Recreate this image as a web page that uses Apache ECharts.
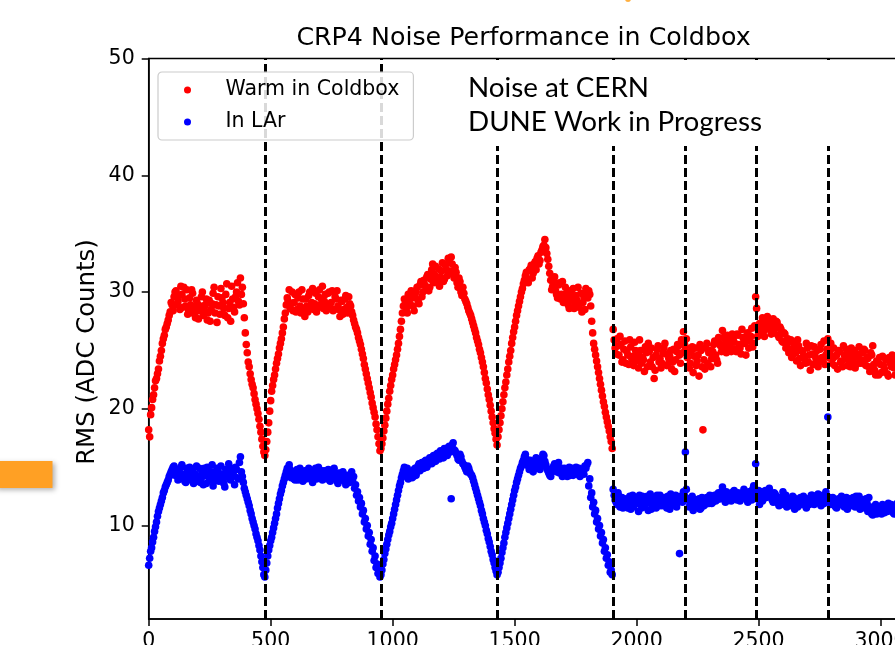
<!DOCTYPE html>
<html>
<head>
<meta charset="utf-8">
<script src="https://cdn.jsdelivr.net/npm/echarts@6/dist/echarts.min.js"></script>
<style>html,body{margin:0;padding:0;background:#fff;}#c{width:895px;height:645px;}</style>
</head>
<body>
<div id="c"></div>
<script>
// ---- data (main arrays at channel start+8i, "b" arrays at start+4+8i) ----
const STEP = 8;
const segStarts = [0, 480, 952, 1432, 1904];
const boundaries = [476, 952, 1428, 1904, 2200, 2492, 2784];
const xTicks = [0, 500, 1000, 1500, 2000, 2500, 3000];
const yTicks = [10, 20, 30, 40, 50];

const warm1 = [18.2,19.5,20.8,21.8,22.6,23.4,24.5,25.6,26.3,27.0,27.6,28.3,28.9,29.6,30.1,29.2,28.5,29.8,30.4,28.8,
28.1,29.5,30.2,28.6,27.8,29.0,28.4,29.6,28.0,28.9,27.6,29.3,28.5,29.9,28.2,27.4,28.8,30.3,29.1,28.0,
30.7,28.6,27.5,29.4,28.3,30.0,29.2,31.2,30.4,27.8,25.5,24.0,23.0,22.1,21.3,20.4,19.6,18.5,17.4,16.3];
const warm2 = [16.5,18.0,19.8,21.5,22.5,23.4,24.3,25.2,26.0,27.0,28.2,29.5,30.2,29.0,28.4,29.8,28.5,30.0,28.2,29.4,
27.9,28.8,29.7,28.6,30.3,29.0,28.3,29.6,28.9,30.5,29.2,28.4,29.9,28.7,30.1,28.5,29.4,28.8,27.9,29.2,
28.5,29.7,28.2,29.0,28.3,27.6,27.0,26.5,25.8,25.1,24.3,23.4,22.6,21.8,21.0,20.1,19.3,18.2,17.0];
const warm3 = [16.6,17.5,18.6,19.8,20.9,22.0,22.9,23.8,24.6,25.6,26.8,28.2,29.4,28.6,29.8,28.9,29.5,28.4,30.0,29.3,
30.6,29.6,31.0,30.2,31.5,30.4,31.9,30.8,32.2,31.2,30.5,31.8,30.9,32.3,31.4,32.6,33.0,31.6,32.1,30.8,
31.2,30.0,30.4,29.4,29.0,28.4,28.0,27.4,26.8,26.1,25.5,24.8,24.0,23.1,22.2,21.2,20.3,19.3,18.3,17.4];
const warm4 = [17.6,18.8,20.0,21.2,22.3,23.4,24.5,25.6,26.6,27.5,28.4,29.2,30.0,30.7,31.4,31.0,31.9,32.3,31.6,32.6,
32.9,32.4,33.4,33.9,34.5,33.3,32.2,31.0,30.5,31.3,29.8,30.6,29.4,30.9,29.2,29.9,28.9,30.1,29.3,28.6,
29.7,30.4,29.0,28.3,29.6,30.3,29.5,29.8,27.5,25.6,24.6,23.6,22.6,21.6,20.6,19.7,18.9,18.1,17.2];
const warm5 = [26.8,25.2,26.0,24.6,25.5,24.2,25.8,24.9,23.8,25.3,24.5,25.7,24.1,23.5,25.0,24.4,23.2,24.8,25.6,24.0,
23.6,22.6,24.6,25.4,24.3,23.9,25.2,24.7,23.8,24.5,23.4,25.1,24.2,25.5,24.6,25.9,26.6,25.3,24.4,23.5,
24.9,23.1,25.2,24.1,22.8,25.0,18.2,23.4,25.6,24.8,23.6,24.9,25.8,24.2,26.1,25.4,26.7,25.5,24.8,26.0,
25.3,26.4,25.7,24.9,26.3,25.2,26.8,25.9,24.6,26.5,25.8,26.9,25.6,29.6,26.2,27.3,26.5,27.6,26.8,27.9,
27.1,26.4,27.7,26.9,27.4,26.1,26.8,25.7,26.4,25.5,24.8,25.9,24.6,25.2,24.1,25.4,23.7,24.9,24.3,25.6,
24.0,23.3,24.7,25.3,24.2,23.6,25.1,24.4,25.8,24.6,26.0,24.8,23.9,25.2,24.5,23.4,24.9,24.1,25.4,24.3,
23.7,24.8,25.2,24.0,23.5,24.7,25.3,24.2,23.9,25.0,24.4,23.6,24.8,25.4,23.3,24.1,22.9,23.8,24.5,23.4,
24.2,22.8,23.9,24.6,23.5,24.1];
const warm1b = [17.6,20.1,21.2,22.4,23.0,24.1,25.0,26.0,26.8,27.3,28.0,29.1,28.4,30.0,28.9,29.7,30.5,28.7,29.4,30.2,
28.4,28.9,29.9,28.1,29.3,27.7,28.8,30.0,28.5,29.4,28.2,27.5,29.0,30.4,28.9,29.6,28.1,29.5,28.6,29.8,
27.8,29.1,30.5,28.7,29.6,30.8,28.9,29.8,29.0,26.5,24.8,23.6,22.5,21.8,20.8,20.0,19.1,18.0,16.8,16.0];
const warm2b = [17.2,18.8,20.7,22.0,22.9,23.9,24.7,25.6,26.5,27.7,28.9,29.2,28.6,30.0,29.1,28.3,29.5,28.8,30.2,28.6,
29.4,28.3,30.0,29.1,28.5,29.9,28.7,30.2,29.4,28.6,29.8,28.9,30.0,29.1,28.4,29.6,30.1,28.5,29.3,28.1,
29.4,28.7,29.6,28.8,28.0,27.3,26.8,26.1,25.5,24.7,23.8,23.0,22.2,21.4,20.5,19.7,18.7,17.6,16.4];
const warm3b = [17.0,18.1,19.2,20.4,21.5,22.5,23.4,24.2,25.1,26.2,27.5,28.8,29.0,28.2,29.3,30.1,28.8,29.6,30.4,29.0,
30.9,30.0,30.6,31.3,30.1,31.1,32.4,31.5,30.9,32.0,31.3,32.5,31.1,31.9,32.9,31.8,32.4,31.2,31.7,30.4,
30.9,29.7,29.9,29.2,28.7,28.2,27.7,27.1,26.5,25.8,25.1,24.4,23.6,22.6,21.7,20.8,19.8,18.8,17.9,16.9];
const warm4b = [18.2,19.4,20.6,21.8,22.9,24.0,25.0,26.1,27.0,28.0,28.8,29.6,30.3,31.0,31.7,30.8,32.0,31.2,32.4,31.9,
33.1,32.7,33.6,34.0,33.8,32.8,31.6,30.2,31.0,30.1,29.5,30.8,29.8,29.1,30.4,29.5,28.6,29.8,30.3,28.9,
29.3,28.7,29.9,29.1,28.5,29.9,30.1,28.8,26.5,25.1,24.1,23.1,22.1,21.1,20.2,19.3,18.5,17.6,16.6];
const warm5b = [25.9,24.7,25.4,26.2,24.0,25.1,23.9,24.6,25.9,24.3,23.7,25.0,24.6,25.9,23.9,24.2,25.3,23.6,24.9,25.2,
24.4,23.3,25.1,24.0,23.5,24.8,25.6,23.7,24.3,25.0,24.0,23.2,24.9,25.4,23.9,24.8,25.6,26.0,24.8,23.9,
25.3,24.5,23.7,24.6,25.5,23.6,24.2,25.2,23.9,25.0,24.3,25.5,24.6,23.9,25.6,24.9,26.1,25.0,26.3,25.6,
24.9,26.0,25.1,26.4,25.5,24.7,26.1,25.6,26.3,25.2,26.2,25.3,27.1,28.6,26.6,27.0,27.8,26.2,27.3,27.5,
26.8,27.2,26.5,27.5,26.3,27.0,25.8,26.5,25.2,26.0,25.1,24.4,25.6,24.8,25.9,24.3,25.0,24.5,23.9,25.2,
24.6,25.4,23.8,24.5,25.0,24.0,25.5,24.2,23.8,25.1,24.4,25.6,24.3,23.7,24.6,25.0,24.0,23.6,24.6,25.1,
24.2,23.6,24.5,25.0,23.8,24.4,23.9,24.8,25.1,23.7,24.3,23.2,24.6,23.8,22.9,24.0,24.4,23.1,23.7,24.3,
23.0,24.4,23.6,24.0,22.9,23.8];

const lar1 = [6.6,7.8,8.6,9.5,10.3,11.2,11.8,12.4,13.0,13.5,13.9,14.4,14.8,15.1,14.6,13.9,14.5,15.2,14.1,13.7,
14.6,15.0,14.2,13.6,14.4,13.8,14.9,14.1,13.5,14.3,15.0,13.9,14.6,13.4,14.2,14.9,13.8,15.1,14.0,13.3,
14.4,15.3,13.9,14.6,13.5,14.8,14.0,15.9,14.2,13.2,12.6,12.0,11.3,10.6,10.0,9.3,8.7,7.9,6.9,5.8];
const lar2 = [6.2,7.4,8.3,9.0,9.8,10.6,11.5,12.3,13.0,13.7,14.3,14.9,15.2,14.1,14.6,13.9,14.8,14.2,14.5,13.8,
14.7,14.1,14.9,14.3,13.7,14.6,14.0,15.0,14.4,13.9,14.7,14.2,14.8,13.8,14.4,14.9,14.1,13.6,14.3,13.9,
14.2,13.5,14.0,13.7,14.6,14.2,13.5,12.9,12.4,11.9,11.3,10.6,10.0,9.4,8.8,8.1,7.4,6.7,6.0];
const lar3 = [5.8,6.7,7.6,8.4,9.2,9.9,10.6,11.4,12.2,13.0,13.7,14.4,15.0,14.6,14.0,14.5,14.1,14.8,14.3,15.1,
14.7,15.4,14.9,15.6,15.2,15.8,15.3,16.0,15.5,16.2,15.7,16.3,15.8,16.5,16.0,16.8,12.3,17.1,16.4,16.0,
15.6,15.9,15.3,15.0,14.6,14.9,14.4,14.1,13.5,12.9,12.3,11.7,11.0,10.3,9.6,8.9,8.2,7.5,6.8,6.1];
const lar4 = [6.0,6.8,7.7,8.5,9.4,10.2,11.0,11.8,12.6,13.3,14.0,14.6,15.1,15.6,16.1,15.4,14.8,15.3,14.6,15.5,
14.9,15.7,15.2,16.1,15.5,14.9,14.5,14.2,14.8,15.3,14.6,15.4,14.7,14.2,14.9,14.4,14.8,14.3,14.9,14.5,
15.0,14.6,14.2,14.8,14.4,14.9,15.4,14.0,12.8,12.0,11.3,10.6,10.0,9.4,8.8,8.1,7.5,6.9,6.2];
const lar5 = [13.1,12.2,11.8,12.5,12.0,11.5,12.3,11.7,12.1,11.4,12.6,11.9,12.3,11.2,12.0,12.5,11.6,12.2,11.3,12.7,
11.8,12.4,11.5,12.1,12.6,11.7,12.3,11.9,12.5,11.4,12.2,11.8,12.6,12.0,7.6,12.4,12.9,16.3,12.2,11.6,
12.1,11.3,12.0,11.7,12.3,11.5,12.1,11.8,12.4,11.9,12.5,12.0,12.6,12.2,12.8,12.3,13.3,12.5,12.9,12.2,
12.7,12.4,13.0,12.3,12.8,12.1,12.6,13.1,12.4,12.0,12.7,12.2,13.4,15.3,12.5,11.8,12.9,12.3,13.0,12.6,
13.2,12.4,12.0,12.7,12.1,11.7,12.4,12.9,12.0,11.6,12.3,11.8,12.5,11.4,12.1,11.7,12.4,11.9,12.2,11.5,
12.3,12.0,12.6,11.8,12.2,12.7,12.0,12.5,11.9,12.9,19.3,12.4,11.9,12.3,11.6,12.2,11.8,12.5,11.7,12.1,
11.4,12.3,11.9,12.4,11.6,12.0,12.5,11.8,12.2,11.5,12.0,12.4,11.3,10.9,11.4,11.0,11.6,11.2,11.8,11.1,
11.5,11.9,11.3,11.7,11.0,11.6];
const lar1b = [7.2,8.1,9.0,9.9,10.8,11.5,12.1,12.8,13.3,13.7,14.2,14.6,15.0,14.3,14.8,14.0,15.0,14.4,13.8,14.9,
14.3,13.9,14.8,14.0,15.1,14.2,13.7,14.6,14.9,13.6,14.4,14.1,15.2,13.8,14.5,14.7,14.0,14.4,13.6,14.8,
14.2,14.0,14.9,14.3,15.0,14.1,15.4,14.6,13.7,12.9,12.3,11.7,11.0,10.3,9.7,9.0,8.3,7.4,6.4,5.6];
const lar2b = [6.8,7.9,8.7,9.4,10.2,11.0,11.9,12.7,13.4,14.0,14.6,14.3,14.8,14.4,14.0,14.5,13.9,14.9,14.3,14.6,
14.0,14.4,14.8,13.9,14.3,14.9,14.4,14.1,14.7,14.2,14.5,14.0,14.6,14.1,14.8,14.3,13.8,14.5,14.1,14.6,
13.8,14.3,14.0,14.4,13.9,13.2,12.6,12.1,11.6,11.0,10.3,9.7,9.1,8.4,7.8,7.0,6.4,5.9,5.6];
const lar3b = [6.2,7.1,8.0,8.8,9.5,10.2,11.0,11.8,12.6,13.4,14.1,14.7,14.3,14.9,14.4,14.6,14.2,14.9,14.6,15.3,
14.9,15.1,15.5,15.0,15.6,15.4,15.9,15.6,16.1,15.8,16.4,16.0,16.6,16.2,16.7,16.3,16.9,16.5,16.2,15.7,
16.1,15.5,15.2,14.8,15.1,14.6,14.3,13.8,13.2,12.6,12.0,11.3,10.6,10.0,9.3,8.6,7.8,7.1,6.4,5.8];
const lar4b = [6.4,7.2,8.1,9.0,9.8,10.6,11.4,12.2,13.0,13.7,14.3,14.9,15.4,15.9,15.7,15.1,15.6,14.9,15.2,15.8,
15.3,14.8,15.6,16.0,15.2,14.7,14.3,14.6,15.1,14.9,15.0,14.5,14.9,14.4,14.7,14.2,15.0,14.6,14.3,14.8,
14.4,14.9,14.5,14.7,15.1,15.2,13.4,12.4,11.6,11.0,10.3,9.7,9.1,8.5,7.8,7.2,6.6,6.0,5.8];
const lar5b = [12.6,12.0,12.8,11.6,12.4,11.9,12.2,11.5,12.5,12.0,11.6,12.4,11.9,12.6,11.5,12.2,11.8,12.5,12.0,11.4,
12.3,11.9,12.6,11.7,12.2,11.9,12.4,11.5,12.1,12.7,11.8,12.3,11.6,12.2,12.5,12.0,12.6,13.1,12.3,11.8,
12.5,11.6,12.2,11.9,11.4,12.4,11.7,12.2,12.0,12.6,11.9,12.4,12.1,12.7,12.3,12.9,12.5,12.0,12.8,12.4,
12.1,12.9,12.5,12.2,12.7,12.3,12.8,12.6,12.2,12.9,12.5,13.1,12.8,12.3,13.0,12.7,12.1,12.8,12.4,12.9,
12.6,12.2,12.8,12.5,11.9,12.4,12.2,11.8,12.6,12.3,12.0,11.7,12.4,12.1,11.6,12.3,11.9,12.5,11.7,12.2,
11.8,12.6,12.1,11.9,12.4,12.3,11.7,12.6,12.1,12.5,12.2,11.8,12.4,12.0,11.5,12.3,11.9,12.2,11.6,12.4,
12.0,11.7,12.2,11.8,12.5,11.9,11.4,12.1,11.7,12.3,11.2,11.6,11.0,11.5,11.8,11.2,11.6,11.0,11.4,11.7,
11.2,11.5,11.8,11.1,11.4,11.9];

function toPoints(segs, offset) {
  const out = [];
  segs.forEach((vals, s) => vals.forEach((v, i) => out.push([segStarts[s] + offset + i * STEP, v])));
  return out;
}
const warmPts = toPoints([warm1, warm2, warm3, warm4, warm5], 0).concat(toPoints([warm1b, warm2b, warm3b, warm4b, warm5b], 4));
const larPts = toPoints([lar1, lar2, lar3, lar4, lar5], 0).concat(toPoints([lar1b, lar2b, lar3b, lar4b, lar5b], 4));

const FONT = 'DejaVu Sans';
const chart = echarts.init(document.getElementById('c'), null, {renderer: 'canvas'});
chart.setOption({
  animation: false,
  backgroundColor: '#ffffff',
  grid: {left: 148.7, top: 58.5, width: 749.4, height: 560.5, show: true, borderColor: '#000', borderWidth: 1.5,
    backgroundColor: 'transparent', containLabel: false, outerBoundsMode: 'none'},
  xAxis: {
    type: 'value', min: 0, max: 3072,
    axisLine: {show: true, lineStyle: {color: '#000', width: 1.5}},
    axisTick: {show: true, length: 7, lineStyle: {color: '#000', width: 1.5}, customValues: xTicks},
    axisLabel: {color: '#000', fontFamily: FONT, fontSize: 20.5, margin: 12, customValues: xTicks, formatter: v => String(v)},
    splitLine: {show: false}
  },
  yAxis: {
    type: 'value', min: 2, max: 50,
    axisLine: {show: true, lineStyle: {color: '#000', width: 1.5}},
    axisTick: {show: true, length: 7, lineStyle: {color: '#000', width: 1.5}, customValues: yTicks},
    axisLabel: {color: '#000', fontFamily: FONT, fontSize: 20.5, margin: 14, customValues: yTicks, formatter: v => String(v)},
    splitLine: {show: false}
  },
  legend: {
    data: [{name: 'Warm in Coldbox', icon: 'circle'}, {name: 'In LAr', icon: 'circle'}],
    orient: 'vertical', left: 158, top: 72,
    itemWidth: 60, itemHeight: 7, itemGap: 8,
    padding: [6, 14, 6, 26],
    backgroundColor: 'rgba(255,255,255,0.85)', borderColor: '#cccccc', borderWidth: 1.2, borderRadius: 4,
    textStyle: {fontFamily: FONT, fontSize: 20.5, color: '#000', lineHeight: 24, padding: [0, 0, 0, 3]},
    z: 20
  },
  series: [
    {name: 'Warm in Coldbox', type: 'scatter', data: warmPts, symbolSize: 7.6, itemStyle: {color: '#ff0000', opacity: 1}, z: 2},
    {name: 'In LAr', type: 'scatter', data: larPts, symbolSize: 7.6, itemStyle: {color: '#0000ff', opacity: 1}, z: 2},
    {name: 'boundaries', type: 'line', data: [], z: 5,
      markLine: {silent: true, symbol: ['none', 'none'], label: {show: false},
        lineStyle: {color: '#000', width: 3, type: [9, 4]},
        data: boundaries.map(b => ({xAxis: b}))}}
  ],
  graphic: [
    {type: 'rect', z: 10, shape: {x: 440, y: 61, width: 460, height: 85}, style: {fill: '#ffffff'}},
    {type: 'text', z: 11, style: {text: 'Noise at CERN', x: 468, y: 88, fill: '#000', font: '27.8px Lato', textAlign: 'left', verticalAlign: 'middle', textVerticalAlign: 'middle'}},
    {type: 'text', z: 11, style: {text: 'DUNE Work in Progress', x: 468, y: 122, fill: '#000', font: '27.8px Lato', textAlign: 'left', verticalAlign: 'middle', textVerticalAlign: 'middle'}},
    {type: 'text', z: 11, style: {text: 'CRP4 Noise Performance in Coldbox', x: 523.5, y: 38, fill: '#000', font: '25.3px "DejaVu Sans"', textAlign: 'center', verticalAlign: 'middle', textVerticalAlign: 'middle'}},
    {type: 'text', z: 11, x: 88, y: 352, rotation: Math.PI / 2, style: {text: 'RMS (ADC Counts)', x: 0, y: 0, fill: '#000', font: '24.4px "DejaVu Sans"', textAlign: 'center', verticalAlign: 'middle', textVerticalAlign: 'middle'}},
    {type: 'rect', z: 11, shape: {x: -5, y: 461, width: 57.5, height: 27}, style: {fill: '#ffa024', shadowBlur: 5, shadowOffsetX: 2, shadowOffsetY: 2, shadowColor: 'rgba(0,0,0,0.3)'}},
    {type: 'circle', z: 11, shape: {cx: 628, cy: -1, r: 3}, style: {fill: '#ffb040'}}
  ]
});
</script>
</body>
</html>
